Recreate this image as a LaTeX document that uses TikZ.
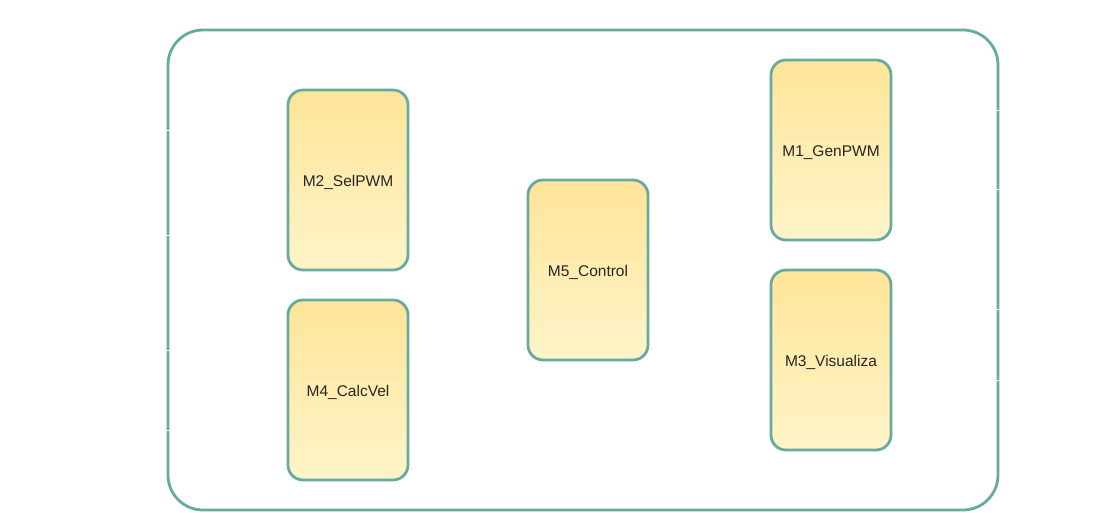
\documentclass[tikz,border=0pt]{standalone}
\usepackage{fontspec}
\setmainfont{Liberation Sans}
\definecolor{edgegreen}{HTML}{67AB9F}
\definecolor{filltop}{HTML}{FFE599}
\definecolor{fillbot}{HTML}{FFF4C9}
\begin{document}
\begin{tikzpicture}[x=1pt,y=-1pt,
  module/.style={draw=edgegreen, line width=2.8pt, rounded corners=15pt,
    top color=filltop, bottom color=fillbot, minimum width=120pt, minimum height=180pt,
    inner sep=0pt, font=\fontsize{15.5}{17}\selectfont, text=black!85,
    text height=15pt, text depth=2pt},
  frame/.style={draw=edgegreen, line width=2.8pt, rounded corners=35pt},
  tick/.style={draw=white, line width=1pt}]
\useasboundingbox (0,0) rectangle (1097,512);
\node[frame, minimum width=830pt, minimum height=480pt, inner sep=0pt] (outer) at (583,270) {};
\node[module] (m2) at (348,180) {M2\_SelPWM};
\node[module] (m4) at (348,390) {M4\_CalcVel};
\node[module] (m5) at (588,270) {M5\_Control};
\node[module] (m1) at (831,150) {M1\_GenPWM};
\node[module] (m3) at (831,360) {M3\_Visualiza};
% port stubs on the outer frame
\foreach \yy in {130,235,350,430}{\draw[tick] ([xshift=-3pt]outer.west |- 0,\yy) -- ++(6,0);}
\foreach \yy in {110,189,309,380}{\draw[tick] ([xshift=-3pt]outer.east |- 0,\yy) -- ++(6,0);}
% port stubs on modules
\foreach \yy in {180,235}{\draw[tick] ([xshift=-3pt]m2.west |- 0,\yy) -- ++(2,0);}
\draw[tick] ([xshift=1pt]m2.east |- 0,184) -- ++(2,0);
\foreach \yy in {230,312}{\draw[tick] ([xshift=-3pt]m5.west |- 0,\yy) -- ++(2,0);}
\draw[tick] ([xshift=1pt]m5.east |- 0,270) -- ++(2,0);
\foreach \yy in {315,342,377,415}{\draw[tick] ([xshift=-3pt]m3.west |- 0,\yy) -- ++(2,0);}
\foreach \yy in {310,391}{\draw[tick] ([xshift=1pt]m3.east |- 0,\yy) -- ++(2,0);}
\end{tikzpicture}
\end{document}
